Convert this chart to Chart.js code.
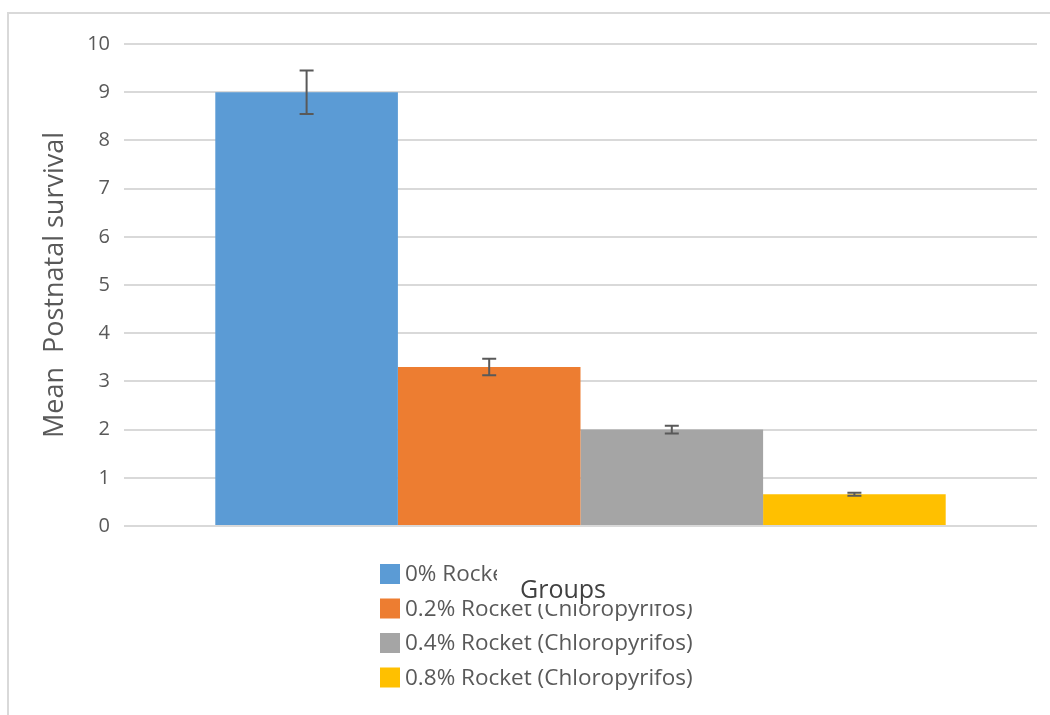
<!DOCTYPE html>
<html>
<head>
<meta charset="utf-8">
<script src="https://cdn.jsdelivr.net/npm/chart.js@4/dist/chart.umd.min.js"></script>
<style>
  html, body { margin: 0; padding: 0; background: #fff; }
  #wrap { width: 1050px; height: 715px; }
</style>
</head>
<body>
<div id="wrap"><canvas id="survivalChart" width="1050" height="715"></canvas></div>
<script>
// data
const categories = ['Groups'];
const seriesNames = ['0% Rocket', '0.2% Rocket (Chloropyrifos)', '0.4% Rocket (Chloropyrifos)', '0.8% Rocket (Chloropyrifos)'];
const meanValues = [9.0, 3.3, 2.0, 0.66];
const errValues = [0.45, 0.17, 0.08, 0.03];
const yTicks = [0, 1, 2, 3, 4, 5, 6, 7, 8, 9, 10];
const seriesColors = ['#5b9bd5', '#ed7d31', '#a5a5a5', '#ffc000'];

const FONT = '"Open Sans", sans-serif';

// fondo + marco
const framePlugin = {
    id: 'frame',
    beforeDraw(chart) {
        const ctx = chart.ctx;
        ctx.save();
        ctx.fillStyle = '#ffffff';
        ctx.fillRect(0, 0, chart.width, chart.height);
        ctx.strokeStyle = '#d9d9d9';
        ctx.lineWidth = 2;
        ctx.beginPath();
        ctx.moveTo(8, chart.height);
        ctx.lineTo(8, 13);
        ctx.lineTo(chart.width, 13);
        ctx.stroke();
        ctx.restore();
    }
};

// barras de error
const errorBarPlugin = {
    id: 'errorBars',
    afterDatasetsDraw(chart) {
        const ctx = chart.ctx;
        const y = chart.scales.y;
        ctx.save();
        ctx.strokeStyle = '#595959';
        ctx.lineWidth = 2;
        chart.data.datasets.forEach((ds, i) => {
            const bar = chart.getDatasetMeta(i).data[0];
            const v = ds.data[0];
            const e = errValues[i];
            const top = y.getPixelForValue(v + e);
            const bot = y.getPixelForValue(v - e);
            ctx.beginPath();
            ctx.moveTo(bar.x, top); ctx.lineTo(bar.x, bot);
            ctx.moveTo(bar.x - 7, top); ctx.lineTo(bar.x + 7, top);
            ctx.moveTo(bar.x - 7, bot); ctx.lineTo(bar.x + 7, bot);
            ctx.stroke();
        });
        ctx.restore();
    }
};

// leyenda + titulo "Groups" encima (como en el original)
const legendPlugin = {
    id: 'customLegend',
    afterDraw(chart) {
        const ctx = chart.ctx;
        ctx.save();
        ctx.font = '22.5px ' + FONT;
        ctx.textBaseline = 'middle';
        chart.data.datasets.forEach((ds, i) => {
            const rowY = 574 + i * 34.5;
            ctx.fillStyle = ds.backgroundColor;
            ctx.fillRect(380, rowY - 10, 20, 20);
            ctx.fillStyle = '#595959';
            ctx.fillText(ds.label, 405, rowY + 1);
        });
        ctx.fillStyle = '#ffffff';
        ctx.fillRect(497, 558, 210, 46);
        ctx.fillStyle = '#404040';
        ctx.font = '25px ' + FONT;
        ctx.textAlign = 'center';
        ctx.textBaseline = 'alphabetic';
        ctx.fillText(categories[0], 563, 598);
        ctx.restore();
    }
};

const ctx = document.getElementById('survivalChart').getContext('2d');
const survivalChart = new Chart(ctx, {
    type: 'bar',
    data: {
        labels: categories,
        datasets: seriesNames.map((name, i) => ({
            label: name,
            data: [meanValues[i]],
            backgroundColor: seriesColors[i],
            borderWidth: 0,
            categoryPercentage: 0.8,
            barPercentage: 1.0
        }))
    },
    options: {
        responsive: false,
        animation: false,
        layout: { padding: { left: 0, right: 13, top: 44, bottom: 189 } },
        scales: {
            x: {
                grid: { display: false },
                border: { display: false },
                ticks: { display: false },
                afterFit(scale) { scale.height = 0; }
            },
            y: {
                min: 0,
                max: 10,
                afterBuildTicks(scale) { scale.ticks = yTicks.map(v => ({ value: v })); },
                afterFit(scale) { scale.width = 124; },
                grid: { color: '#d9d9d9', lineWidth: 2, drawTicks: false },
                border: { display: false },
                ticks: {
                    color: '#595959',
                    font: { family: FONT, size: 20 },
                    padding: 14
                },
                title: {
                    display: true,
                    text: 'Mean  Postnatal survival',
                    color: '#595959',
                    font: { family: FONT, size: 27 },
                    padding: { top: 39, bottom: 0 }
                }
            }
        },
        plugins: {
            legend: { display: false },
            tooltip: { enabled: false }
        }
    },
    plugins: [framePlugin, errorBarPlugin, legendPlugin]
});
</script>
</body>
</html>
